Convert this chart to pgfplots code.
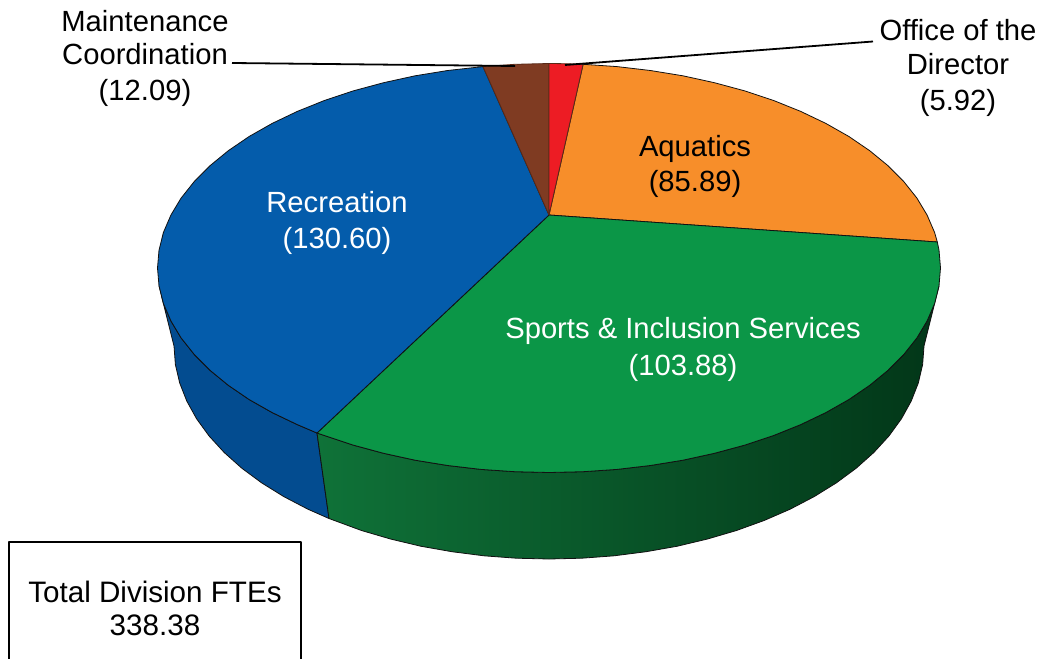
\documentclass[border=0pt]{standalone}
\usepackage{pgfplots}
\pgfplotsset{compat=1.18}
\usepackage{fontspec}
\setmainfont{Liberation Sans}
\definecolor{topblue}{HTML}{045CAB}
\definecolor{topgreen}{HTML}{0B9647}
\definecolor{toporange}{HTML}{F78E2A}
\definecolor{topred}{HTML}{ED1C24}
\definecolor{topbrown}{HTML}{7F3B22}
\definecolor{sideblue}{HTML}{034C90}
\definecolor{sidegreenL}{HTML}{0F7238}
\definecolor{sidegreenM}{HTML}{07502A}
\definecolor{sidegreenR}{HTML}{023618}
\definecolor{edge}{HTML}{111111}
\newcommand{\lab}[4][black]{\node[anchor=base,inner sep=0pt,text=#1,font=\fontsize{29.2bp}{35bp}\selectfont] at (axis cs:#2,#3) {#4};}
\newcommand{\labb}[3]{\node[anchor=base,inner sep=0pt,font=\fontsize{29.6bp}{35bp}\selectfont] at (axis cs:#1,#2) {#3};}
\begin{document}
\begin{tikzpicture}[x=1bp,y=1bp]
\path[use as bounding box] (0,0) rectangle (1044bp,659bp);
\begin{axis}[at={(0,0)},anchor=south west,scale only axis,width=1044bp,height=659bp,
 xmin=0,xmax=1044,ymin=0,ymax=659,y dir=reverse,hide axis,clip=true,
 every axis plot/.append style={no marks,line join=round,line width=0.8bp}]
% side walls
\addplot[draw=edge,fill=sideblue] coordinates {
 (159.0,285.8)(163.4,303.5)(170.9,320.9)(181.1,337.9)(194.2,354.4)(210.0,370.3)(228.3,385.3)(249.1,399.5)(272.2,412.6)(297.3,424.6)(317,433)
 (329,518.5)(307.9,509.2)(283.8,496.6)(261.7,482.9)(241.8,468.2)(224.2,452.5)(209.1,436)(196.6,418.8)(186.8,401.1)(179.7,383)(175.4,364.6)(174,346)
} --cycle;
\addplot[draw=edge,left color=sidegreenL,middle color=sidegreenM,right color=sidegreenR] coordinates {
 (317,433)(324.4,435.5)(353.2,445.1)(383.6,453.3)(415.1,460.2)(447.7,465.5)(481.0,469.4)(514.9,471.7)(549,472.5)(583.1,471.7)(617.0,469.4)(650.3,465.5)(682.9,460.2)(714.4,453.3)(744.8,445.1)(773.6,435.5)(800.7,424.6)(825.8,412.6)(848.9,399.5)(869.7,385.3)(888.0,370.3)(903.8,354.4)(916.9,337.9)(927.1,320.9)(934.6,303.5)(939.0,285.8)
 (924,346)(922.6,364.6)(918.3,383)(911.2,401.1)(901.4,418.8)(888.9,436)(873.8,452.5)(856.2,468.2)(836.3,482.9)(814.2,496.6)(790.1,509.2)(764.1,520.5)(736.5,530.5)(707.5,539)(677.3,546.2)(646.1,551.7)(614.1,555.8)(581.7,558.2)(549,559)(516.3,558.2)(483.9,555.8)(451.9,551.7)(420.7,546.2)(390.5,539)(361.5,530.5)(329,518.5)
} --cycle;
% top: Aquatics
\addplot[draw=edge,fill=toporange] coordinates {
 (549,215)(583.1,64.3)(617,66.6)(650.3,70.5)(682.9,75.8)(714.4,82.7)(744.8,90.9)(773.6,100.5)(800.7,111.4)(825.8,123.4)(848.9,136.5)(869.7,150.7)(888,165.7)(903.8,181.6)(916.9,198.1)(927.1,215.1)(934.6,232.5)(937.3,242)
} --cycle;
% top: Sports & Inclusion Services
\addplot[draw=edge,fill=topgreen] coordinates {
 (549,215)(937.3,242)(939,250.2)(940.5,268)(939.0,285.8)(934.6,303.5)(927.1,320.9)(916.9,337.9)(903.8,354.4)(888.0,370.3)(869.7,385.3)(848.9,399.5)(825.8,412.6)(800.7,424.6)(773.6,435.5)(744.8,445.1)(714.4,453.3)(682.9,460.2)(650.3,465.5)(617.0,469.4)(583.1,471.7)(549,472.5)(514.9,471.7)(481.0,469.4)(447.7,465.5)(415.1,460.2)(383.6,453.3)(353.2,445.1)(324.4,435.5)(317,433)
} --cycle;
% top: Recreation
\addplot[draw=edge,fill=topblue] coordinates {
 (549,215)(317,433)(297.3,424.6)(272.2,412.6)(249.1,399.5)(228.3,385.3)(210.0,370.3)(194.2,354.4)(181.1,337.9)(170.9,320.9)(163.4,303.5)(159.0,285.8)(157.5,268)(159.0,250.2)(163.4,232.5)(170.9,215.1)(181.1,198.1)(194.2,181.6)(210.0,165.7)(228.3,150.7)(249.1,136.5)(272.2,123.4)(297.3,111.4)(324.4,100.5)(353.2,90.9)(383.6,82.7)(415.1,75.8)(447.7,70.5)(483,66.6)
} --cycle;
% top: Maintenance Coordination
\addplot[draw=topbrown!70!black,fill=topbrown] coordinates {
 (549,215)(483,66.6)(514.9,64.3)(549,63.5)
} --cycle;
% top: Office of the Director
\addplot[draw=topbrown!70!black,fill=topred] coordinates {
 (549,215)(549,63.5)(565,63.7)(583.1,64.3)
} --cycle;
% leader lines
\addplot[black,line width=1.8bp] coordinates {(232,63)(515,66)};
\addplot[black,line width=1.8bp] coordinates {(565,65)(873,41.5)};
% box
\addplot[black,line width=2bp] coordinates {(9,665)(9,541.5)(301,541.5)(301,665)};
% labels
\lab{695}{156}{Aquatics}
\lab{695}{191}{(85.89)}
\lab[white]{337}{212}{Recreation}
\lab[white]{337}{248}{(130.60)}
\lab[white]{683}{338}{Sports \& Inclusion Services}
\lab[white]{683}{375}{(103.88)}
\lab{145}{32}{Maintenance}
\lab{145}{65}{Coordination}
\lab{145}{100}{(12.09)}
\lab{958}{41}{Office of the}
\lab{958}{75}{Director}
\lab{958}{110}{(5.92)}
\labb{155}{602}{Total Division FTEs}
\labb{155}{635}{338.38}
\end{axis}
\end{tikzpicture}
\end{document}
